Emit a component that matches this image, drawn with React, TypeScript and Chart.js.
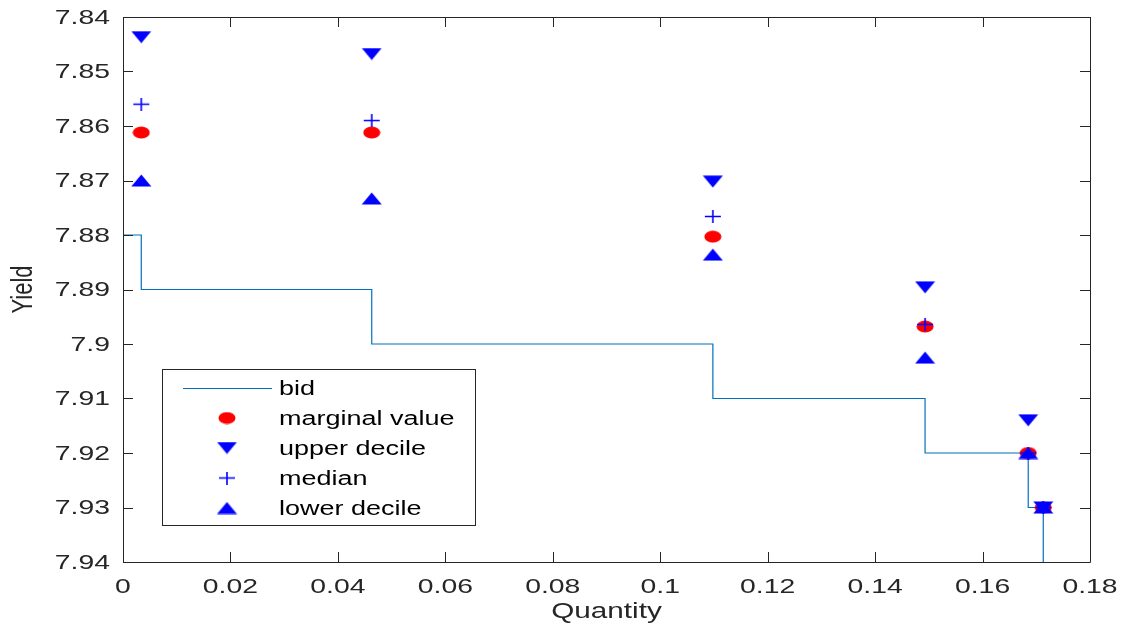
import React, { useEffect, useRef } from "react";
import { Chart, registerables } from "chart.js";

Chart.register(...registerables);

const groupX = [0.0034, 0.0463, 0.1098, 0.1493, 0.1685, 0.1713];
const marginalValue = [7.8612, 7.8612, 7.8803, 7.8968, 7.92, 7.93];
const upperDecile = [7.8437, 7.8468, 7.8702, 7.8896, 7.914, 7.93];
const medianValue = [7.856, 7.859, 7.8766, 7.8964, 7.92, 7.93];
const lowerDecile = [7.870, 7.8733, 7.8836, 7.9025, 7.92, 7.93];

const bidX = [0, 0.0034, 0.0463, 0.1098, 0.1493, 0.1685, 0.1713];
const bidY = [7.88, 7.89, 7.90, 7.91, 7.92, 7.93, 7.95];

const seriesLabels = ["bid", "marginal value", "upper decile", "median", "lower decile"];
const xTitle = "Quantity";
const yTitle = "Yield";

const FONT = "'Liberation Sans', Arial, Helvetica, sans-serif";
const AXIS = "#262626";
const STRETCH = 1.35;

function makeMarker(kind: string): HTMLCanvasElement {
  const c = document.createElement("canvas");
  const w = kind === "circle" || kind === "plus" ? 18 : 21;
  const h = 13;
  c.width = w;
  c.height = h;
  const g = c.getContext("2d")!;
  if (kind === "circle") {
    g.fillStyle = "#FF0000";
    g.beginPath();
    g.ellipse(w / 2, h / 2, w / 2 - 0.5, h / 2 - 0.5, 0, 0, Math.PI * 2);
    g.fill();
  } else if (kind === "down") {
    g.fillStyle = "#0000FF";
    g.beginPath();
    g.moveTo(0.5, 0.5);
    g.lineTo(w - 0.5, 0.5);
    g.lineTo(w / 2, h - 0.5);
    g.closePath();
    g.fill();
  } else if (kind === "up") {
    g.fillStyle = "#0000FF";
    g.beginPath();
    g.moveTo(0.5, h - 0.5);
    g.lineTo(w - 0.5, h - 0.5);
    g.lineTo(w / 2, 0.5);
    g.closePath();
    g.fill();
  } else {
    g.strokeStyle = "#0000FF";
    g.lineWidth = 1.6;
    g.beginPath();
    g.moveTo(1, h / 2);
    g.lineTo(w - 1, h / 2);
    g.moveTo(w / 2, 0);
    g.lineTo(w / 2, h);
    g.stroke();
  }
  return c;
}

function fmt(v: number): string {
  return String(Number(v.toFixed(2)));
}

function stretchedText(ctx: CanvasRenderingContext2D, text: string, x: number, y: number, align: CanvasTextAlign, rot = 0) {
  ctx.save();
  ctx.translate(x, y);
  if (rot) ctx.rotate(rot);
  ctx.scale(STRETCH, 1);
  ctx.textAlign = align;
  ctx.fillText(text, 0, 0);
  ctx.restore();
}

export default function App() {
  const ref = useRef<HTMLCanvasElement>(null);

  useEffect(() => {
    document.body.style.margin = "0";
    const circle = makeMarker("circle");
    const down = makeMarker("down");
    const up = makeMarker("up");
    const plus = makeMarker("plus");
    const markers: (HTMLCanvasElement | null)[] = [null, circle, down, plus, up];

    const pts = (ys: number[]) => groupX.map((x, i) => ({ x, y: ys[i] }));

    const framePlugin = {
      id: "matlabFrame",
      afterDatasetsDraw(chart: any) {
        const { ctx, chartArea: a, scales } = chart;
        const xs = scales.x;
        const ys = scales.y;
        ctx.save();
        ctx.strokeStyle = AXIS;
        ctx.lineWidth = 1;
        ctx.beginPath();
        ctx.rect(Math.round(a.left) + 0.5, Math.round(a.top) + 0.5, Math.round(a.right - a.left), Math.round(a.bottom - a.top));
        ctx.stroke();
        const tl = 10;
        ctx.beginPath();
        xs.ticks.forEach((t: any) => {
          const px = Math.round(xs.getPixelForValue(t.value)) + 0.5;
          ctx.moveTo(px, a.bottom);
          ctx.lineTo(px, a.bottom - tl);
          ctx.moveTo(px, a.top);
          ctx.lineTo(px, a.top + tl);
        });
        ys.ticks.forEach((t: any) => {
          const py = Math.round(ys.getPixelForValue(t.value)) + 0.5;
          ctx.moveTo(a.left, py);
          ctx.lineTo(a.left + tl, py);
          ctx.moveTo(a.right, py);
          ctx.lineTo(a.right - tl, py);
        });
        ctx.stroke();

        // tick labels
        ctx.fillStyle = AXIS;
        ctx.font = `21px ${FONT}`;
        ctx.textBaseline = "alphabetic";
        xs.ticks.forEach((t: any) => {
          const px = xs.getPixelForValue(t.value);
          stretchedText(ctx, fmt(t.value), px, 593, "center");
        });
        ctx.textBaseline = "middle";
        ys.ticks.forEach((t: any) => {
          const py = ys.getPixelForValue(t.value);
          stretchedText(ctx, fmt(t.value), 110, py + 1, "right");
        });
        // titles
        ctx.font = `22px ${FONT}`;
        ctx.textBaseline = "alphabetic";
        stretchedText(ctx, xTitle, (a.left + a.right) / 2, 618, "center");
        ctx.textBaseline = "middle";
        ctx.save();
        ctx.translate(24, (a.top + a.bottom) / 2);
        ctx.rotate(-Math.PI / 2);
        ctx.scale(1, STRETCH);
        ctx.textAlign = "center";
        ctx.fillText(yTitle, 0, 0);
        ctx.restore();

        // legend
        const lx = 162, ly = 369, lw = 313, lh = 156;
        ctx.fillStyle = "#FFFFFF";
        ctx.fillRect(lx, ly, lw, lh);
        ctx.strokeStyle = AXIS;
        ctx.lineWidth = 1;
        ctx.strokeRect(lx + 0.5, ly + 0.5, lw, lh);
        ctx.font = `20px ${FONT}`;
        ctx.textBaseline = "middle";
        chart.data.datasets.forEach((ds: any, i: number) => {
          const y = ly + 19 + i * 30;
          if (i === 0) {
            ctx.strokeStyle = ds.borderColor;
            ctx.lineWidth = 1;
            ctx.beginPath();
            ctx.moveTo(183, y + 0.5);
            ctx.lineTo(272, y + 0.5);
            ctx.stroke();
          } else {
            const m = markers[i]!;
            ctx.drawImage(m, 227 - m.width / 2, y - m.height / 2);
          }
          ctx.fillStyle = "#000000";
          stretchedText(ctx, ds.label, 279, y + 1, "left");
        });
        ctx.restore();
      },
    };

    const chart = new Chart(ref.current!, {
      type: "scatter",
      data: {
        datasets: [
          {
            label: seriesLabels[0],
            data: bidX.map((x, i) => ({ x, y: bidY[i] })),
            showLine: true,
            stepped: "before",
            borderColor: "#0072BD",
            borderWidth: 1.2,
            pointRadius: 0,
            fill: false,
            order: 4,
          },
          { label: seriesLabels[1], data: pts(marginalValue), pointStyle: circle, order: 3 },
          { label: seriesLabels[2], data: pts(upperDecile), pointStyle: down, order: 2 },
          { label: seriesLabels[3], data: pts(medianValue), pointStyle: plus, order: 1 },
          { label: seriesLabels[4], data: pts(lowerDecile), pointStyle: up, order: 0 },
        ] as any,
      },
      options: {
        responsive: false,
        animation: false,
        layout: { padding: { top: 17, right: 35, left: 0, bottom: 0 } },
        plugins: { legend: { display: false }, tooltip: { enabled: false } },
        scales: {
          x: {
            type: "linear",
            min: 0,
            max: 0.18,
            ticks: { stepSize: 0.02, display: false },
            grid: { display: false, drawTicks: false },
            border: { display: false },
            afterFit: (s: any) => {
              s.height = 69;
            },
          },
          y: {
            type: "linear",
            min: 7.84,
            max: 7.94,
            reverse: true,
            ticks: { stepSize: 0.01, display: false },
            grid: { display: false, drawTicks: false },
            border: { display: false },
            afterFit: (s: any) => {
              s.width = 123;
            },
          },
        },
      } as any,
      plugins: [framePlugin],
    });
    return () => chart.destroy();
  }, []);

  return <canvas ref={ref} width={1125} height={631} style={{ display: "block" }} />;
}
